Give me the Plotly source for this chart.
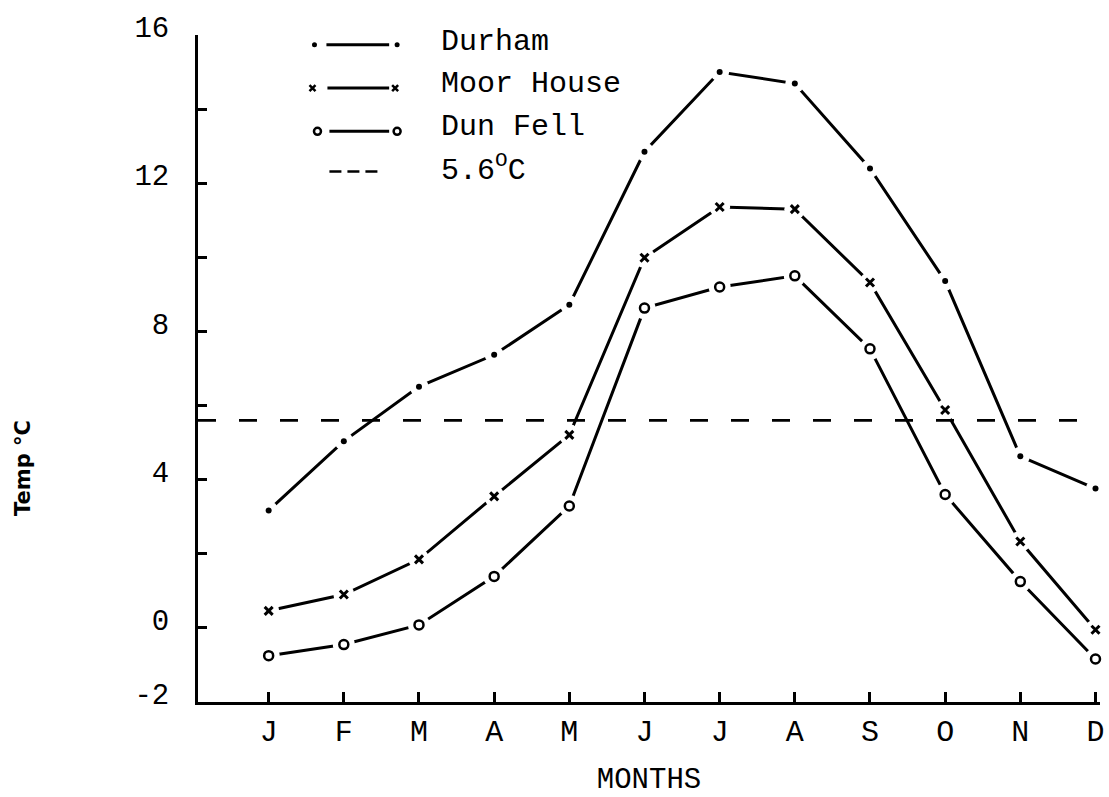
import plotly.graph_objects as go

# ---- data ----
months = ["J", "F", "M", "A", "M", "J", "J", "A", "S", "O", "N", "D"]
month_pos = list(range(1, 13))
durham = [3.17, 5.04, 6.51, 7.37, 8.72, 12.85, 15.0, 14.69, 12.4, 9.36, 4.63, 3.76]
moor_house = [0.46, 0.90, 1.85, 3.55, 5.21, 9.99, 11.36, 11.30, 9.32, 5.88, 2.33, -0.05]
dun_fell = [-0.75, -0.45, 0.08, 1.39, 3.29, 8.63, 9.20, 9.50, 7.53, 3.60, 1.25, -0.84]
threshold = 5.6
y_tick_vals = [-2, 0, 2, 4, 6, 8, 10, 12, 14, 16]
y_tick_text = ["-2", "0", "", "4", "", "8", "", "12", "", "16"]
legend_names = ["Durham", "Moor House", "Dun Fell", "5.6<sup>O</sup>C"]

W, H = 1109, 797
L, R, T, B = 198, 5, 35, 83
MONO = "Liberation Mono"
LW = 3
MASK = "white"

fig = go.Figure()

series = [
    (durham, dict(symbol="circle", size=6, color="black"), 19),
    (moor_house, dict(symbol="x-thin", size=8, line=dict(width=3, color="black"), color="black"), 21),
    (dun_fell, dict(symbol="circle-open", size=9, line=dict(width=2.5, color="black"), color="black"), 22),
]

# lines
for vals, mk, gap in series:
    fig.add_trace(go.Scatter(x=month_pos, y=vals, mode="lines",
                             line=dict(color="black", width=LW), hoverinfo="skip",
                             showlegend=False))
# white masks that break the lines around each marker (hand-drawn look)
for vals, mk, gap in series:
    fig.add_trace(go.Scatter(x=month_pos, y=vals, mode="markers",
                             marker=dict(symbol="circle", size=gap, color=MASK,
                                         line=dict(width=0, color=MASK)),
                             hoverinfo="skip", showlegend=False, cliponaxis=False))
# markers
for vals, mk, gap in series:
    fig.add_trace(go.Scatter(x=month_pos, y=vals, mode="markers", marker=mk,
                             hoverinfo="skip", showlegend=False, cliponaxis=False))

# threshold dashed line
fig.add_shape(type="line", xref="paper", yref="y", x0=0, x1=0.985,
              y0=threshold, y1=threshold, layer="above",
              line=dict(color="black", width=2.6, dash="18px,23px"))

# ---- legend drawn in pixel coordinates (x2/y2) ----
def px_trace(xs, ys, **kw):
    fig.add_trace(go.Scatter(x=xs, y=ys, xaxis="x2", yaxis="y2", hoverinfo="skip",
                             showlegend=False, cliponaxis=False, **kw))

rows_y = [45, 89, 133, 174]
text_y = [42, 85, 129, 171]
px_trace([327, 390], [rows_y[0]] * 2, mode="lines", line=dict(color="black", width=LW))
px_trace([315, 398], [rows_y[0]] * 2, mode="markers", marker=dict(symbol="circle", size=5, color="black"))
px_trace([328, 390], [rows_y[1]] * 2, mode="lines", line=dict(color="black", width=LW))
px_trace([313, 396], [rows_y[1]] * 2, mode="markers",
         marker=dict(symbol="x-thin", size=6, color="black", line=dict(width=2.5, color="black")))
px_trace([330, 390], [rows_y[2]] * 2, mode="lines", line=dict(color="black", width=LW))
px_trace([318, 398], [rows_y[2]] * 2, mode="markers",
         marker=dict(symbol="circle-open", size=7, color="black", line=dict(width=2.5, color="black")))
px_trace([330, 381], [rows_y[3]] * 2, mode="lines", line=dict(color="black", width=2.6, dash="12px,6px"))

for name, ty in zip(legend_names, text_y):
    fig.add_annotation(x=440, y=ty, xref="x2", yref="y2", text=name, showarrow=False,
                       xanchor="left", yanchor="middle",
                       font=dict(family=MONO, size=30, color="black"))

# y axis title (rotated, hand-lettered in the original)
fig.add_annotation(x=(22 - L) / (W - L - R), y=(H - B - 476) / (H - T - B), xref="paper", yref="paper",
                   text="<b>Temp °C</b>", textangle=-90, showarrow=False,
                   xanchor="center", yanchor="middle",
                   font=dict(family="DejaVu Sans", size=21, color="black"))

fig.update_layout(
    width=W, height=H,
    margin=dict(l=L, r=R, t=T, b=B, pad=0),
    paper_bgcolor="white", plot_bgcolor="white",
    showlegend=False,
    xaxis=dict(range=[0.06, 12.06], tickvals=month_pos, ticktext=months,
               showline=True, linecolor="black", linewidth=LW,
               ticks="inside", ticklen=10, tickwidth=2.5, tickcolor="black",
               showgrid=False, zeroline=False,
               tickfont=dict(family=MONO, size=30, color="black"),
               title=dict(text="MONTHS", standoff=22,
                          font=dict(family=MONO, size=29, color="black"))),
    yaxis=dict(range=[-2, 16], tickvals=y_tick_vals, ticktext=y_tick_text,
               showline=True, linecolor="black", linewidth=LW,
               ticks="inside", ticklen=9, tickwidth=2.5, tickcolor="black",
               showgrid=False, zeroline=False, ticklabelstandoff=20, ticklabelshift=-8,
               tickfont=dict(family=MONO, size=29, color="black")),
    xaxis2=dict(overlaying="x", anchor="y2", range=[L, W - R], visible=False, fixedrange=True),
    yaxis2=dict(overlaying="y", anchor="x2", range=[H - B, T], visible=False, fixedrange=True),
)

fig.write_html("out.html", config={"displayModeBar": False},
               post_script="document.body.style.margin='0px';")
